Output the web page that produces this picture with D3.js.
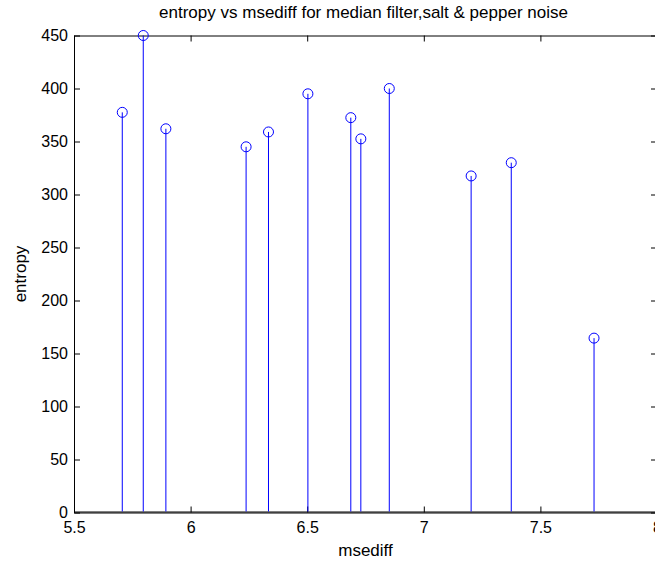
<!DOCTYPE html>
<html>
<head>
<meta charset="utf-8">
<script src="https://cdn.jsdelivr.net/npm/d3@7"></script>
<style>
  body { margin: 0; background: #fff; }
  text { font-family: "Liberation Sans", Arial, Helvetica, sans-serif; }
</style>
</head>
<body>
<div id="chart"></div>
<script>
// stem data
var msediff = [5.707, 5.797, 5.894, 6.238, 6.334, 6.503, 6.687, 6.730, 6.852, 7.203, 7.375, 7.730];
var entropy = [377.5, 450, 362, 345, 359, 395, 372.5, 352.5, 400, 317.5, 330, 164.5];

var xTicks = [5.5, 6, 6.5, 7, 7.5, 8];
var yTicks = [0, 50, 100, 150, 200, 250, 300, 350, 400, 450];

var titleText = "entropy vs msediff for median filter,salt & pepper noise";
var xLabel = "msediff";
var yLabel = "entropy";

// Set the dimensions and margins of the graph
var margin = { top: 35.5, right: -2, bottom: 50.5, left: 74 },
    width = 655 - margin.left - margin.right,
    height = 563 - margin.top - margin.bottom;

var svg = d3.select("#chart")
    .append("svg")
    .attr("width", 655)
    .attr("height", 563)
    .style("display", "block")
    .append("g")
    .attr("transform", "translate(" + margin.left + "," + margin.top + ")");

var x = d3.scaleLinear().domain([5.5, 8]).range([0, width]);
var y = d3.scaleLinear().domain([0, 450]).range([height, 0]);

var data = msediff.map(function(d, i) { return { x: d, y: entropy[i] }; });

function styleAxis(g) {
    g.attr("font-family", null).attr("font-size", null);
    g.selectAll("path.domain").attr("stroke", "#000").attr("stroke-width", 1);
    g.selectAll(".tick line").attr("stroke", "#000").attr("stroke-width", 1);
    g.selectAll(".tick text").attr("fill", "#000").style("font-size", "16px");
}

// bottom axis
svg.append("g")
    .attr("transform", "translate(0," + height + ")")
    .call(d3.axisBottom(x).tickValues(xTicks).tickFormat(d3.format("")).tickSize(-6).tickSizeOuter(0).tickPadding(9))
    .call(styleAxis);

// left axis
svg.append("g")
    .call(d3.axisLeft(y).tickValues(yTicks).tickSize(-6).tickSizeOuter(0).tickPadding(6))
    .call(styleAxis);

// top axis (box)
svg.append("g")
    .call(d3.axisTop(x).tickValues(xTicks).tickFormat("").tickSize(-6).tickSizeOuter(0))
    .call(styleAxis);

// right axis (box)
svg.append("g")
    .attr("transform", "translate(" + width + ",0)")
    .call(d3.axisRight(y).tickValues(yTicks).tickFormat("").tickSize(-6).tickSizeOuter(0))
    .call(styleAxis);

// baseline of the stems
svg.append("line")
    .attr("x1", 0).attr("x2", width)
    .attr("y1", y(0) - 0.5).attr("y2", y(0) - 0.5)
    .attr("stroke", "#000")
    .attr("stroke-width", 1);

// stems
svg.selectAll("line.stem")
    .data(data)
    .enter()
    .append("line")
    .attr("class", "stem")
    .attr("x1", function(d) { return x(d.x); })
    .attr("x2", function(d) { return x(d.x); })
    .attr("y1", y(0) - 1)
    .attr("y2", function(d) { return y(d.y); })
    .attr("stroke", "#0000ff")
    .attr("stroke-width", 1);

// markers
svg.selectAll("circle.mark")
    .data(data)
    .enter()
    .append("circle")
    .attr("class", "mark")
    .attr("cx", function(d) { return x(d.x); })
    .attr("cy", function(d) { return y(d.y); })
    .attr("r", 5)
    .attr("fill", "none")
    .attr("stroke", "#0000ff")
    .attr("stroke-width", 1);

// title and labels
svg.append("text")
    .attr("x", width / 2 - 2)
    .attr("y", -18)
    .attr("text-anchor", "middle")
    .style("font-size", "17px")
    .text(titleText);

svg.append("text")
    .attr("x", width / 2)
    .attr("y", height + 43)
    .attr("text-anchor", "middle")
    .style("font-size", "17px")
    .text(xLabel);

svg.append("text")
    .attr("transform", "rotate(-90)")
    .attr("x", -height / 2)
    .attr("y", -48)
    .attr("text-anchor", "middle")
    .style("font-size", "17px")
    .text(yLabel);
</script>
</body>
</html>
